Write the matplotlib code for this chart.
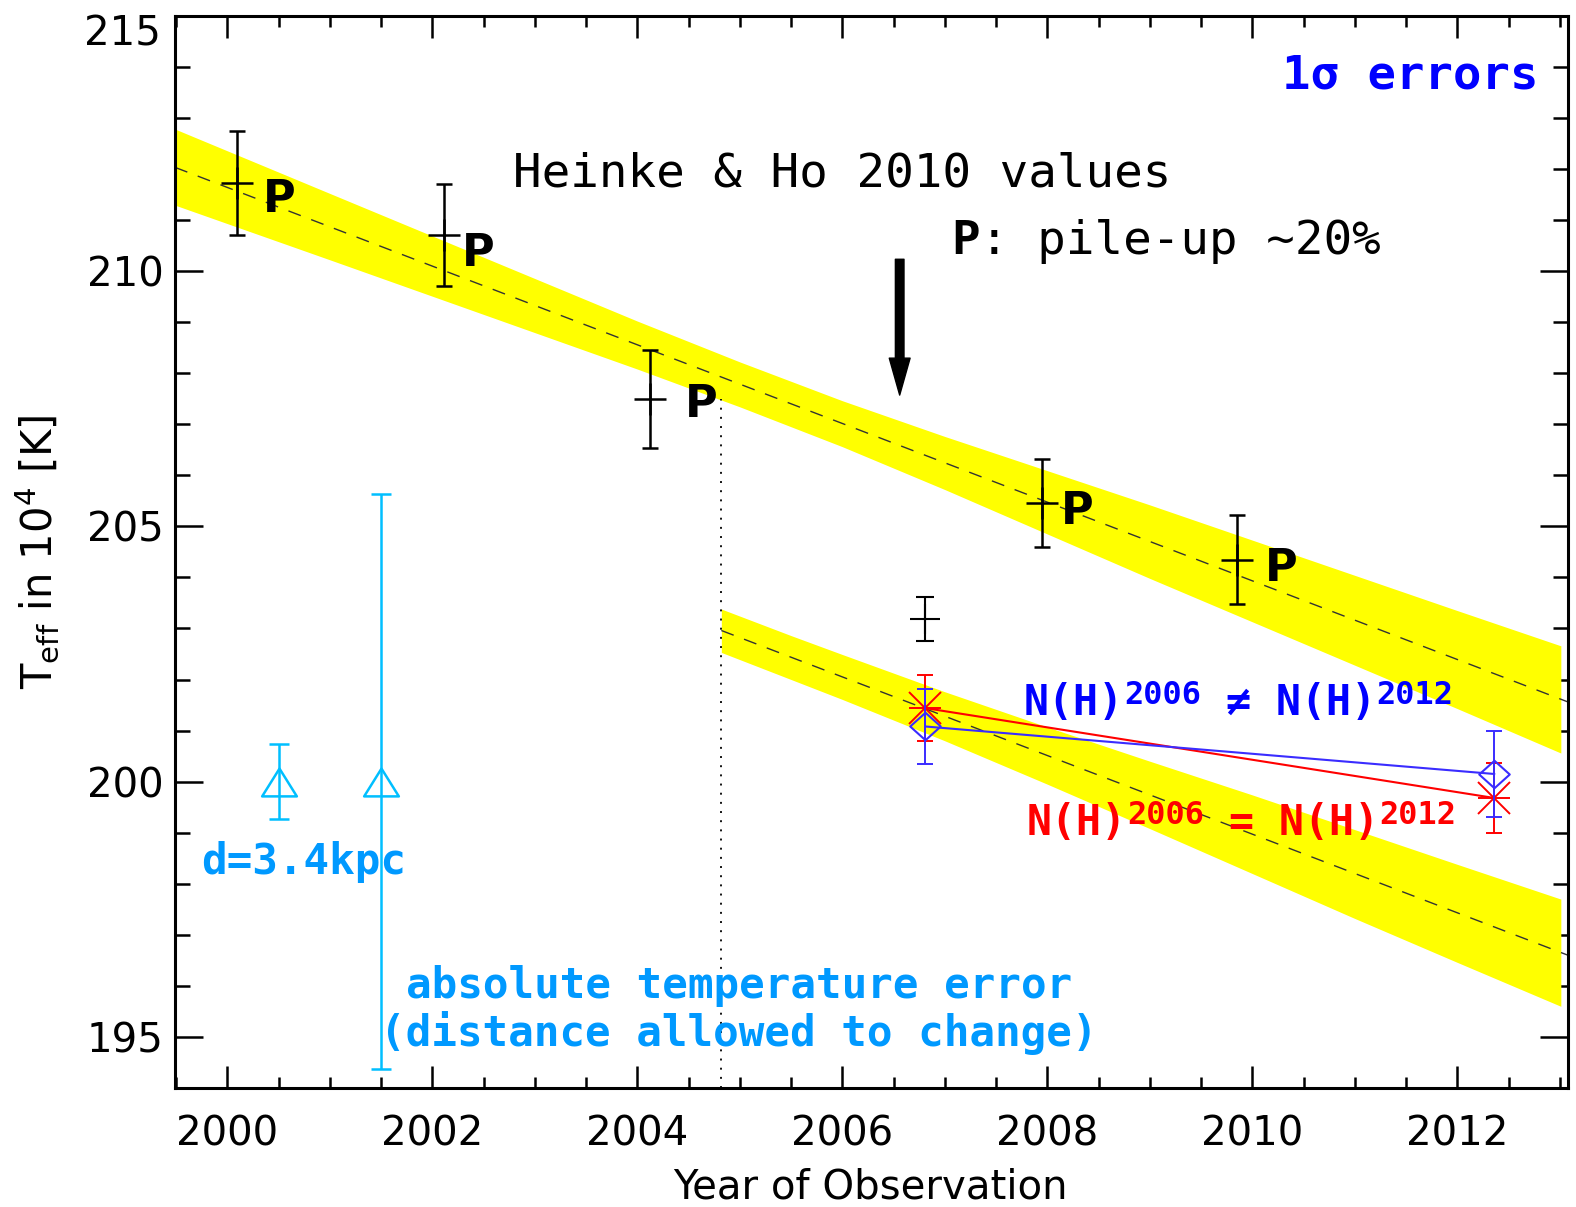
import numpy as np
import matplotlib
matplotlib.use("Agg")
import matplotlib.pyplot as plt
from matplotlib.path import Path

# ---------------------------------------------------------------- data
# Heinke & Ho 2010 temperatures (pile-up ~20%)
hh_year = [2000.09, 2002.11, 2004.12, 2007.95, 2009.85]
hh_teff = [211.73, 210.71, 207.49, 205.45, 204.35]
hh_err = [1.02, 1.00, 0.96, 0.86, 0.88]

# 2006 observation, reference fit
ref_year = [2006.81]
ref_teff = [203.19]
ref_err = [0.43]

# N(H) fitted separately for each epoch
nh_free_year = [2006.81, 2012.36]
nh_free_teff = [201.08, 200.15]
nh_free_err = [0.73, 0.84]

# N(H) tied between the epochs
nh_tied_year = [2006.81, 2012.36]
nh_tied_teff = [201.44, 199.68]
nh_tied_err = [0.64, 0.69]

# absolute temperature error (distance fixed / distance free)
abs_year = [2000.5, 2001.5]
abs_teff = [200.0, 200.0]
abs_err = [0.73, 5.63]

# linear cooling fit to the Heinke & Ho values and its 1-sigma band
fit1_year = [1999.49, 2013.08]
fit1_teff = [212.03, 201.56]
band1_year = [1999.49, 2001.0, 2002.5, 2004.0, 2005.0, 2006.0, 2007.0,
              2008.0, 2009.0, 2010.0, 2011.0, 2012.0, 2013.01]
band1_hi = [212.78, 211.52, 210.27, 209.02, 208.22, 207.46, 206.76,
            206.09, 205.42, 204.73, 204.04, 203.35, 202.66]
band1_lo = [211.29, 210.22, 209.15, 208.08, 207.34, 206.56, 205.72,
            204.85, 203.98, 203.13, 202.28, 201.43, 200.56]

# same fit, shifted to the new data
fit2_year = [2004.82, 2013.08]
fit2_teff = [202.96, 196.60]
band2_year = [2004.82, 2005.5, 2006.0, 2007.0, 2008.0, 2009.0, 2010.0,
              2011.0, 2012.0, 2013.01]
band2_hi = [203.38, 202.86, 202.49, 201.76, 201.07, 200.40, 199.74,
            199.06, 198.38, 197.70]
band2_lo = [202.53, 202.00, 201.61, 200.80, 199.95, 199.08, 198.20,
            197.32, 196.46, 195.60]

split_year = 2004.82
split_top = 207.5

x_major = [2000, 2002, 2004, 2006, 2008, 2010, 2012]
y_major = [195, 200, 205, 210, 215]

# ---------------------------------------------------------------- style
plt.rcParams["font.family"] = ["DejaVu Sans"]
plt.rcParams["lines.scale_dashes"] = False
plt.rcParams["mathtext.fontset"] = "dejavusans"

MONO = "DejaVu Sans Mono"
MONO_ADV = 1233 / 2048  # advance width of DejaVu Sans Mono, in em
CYAN_TXT = "#0099ff"
CYAN = "#00bfff"
BLUE = "#3a2cff"

fig = plt.figure(figsize=(15.76, 12.07), dpi=100)
ax = fig.add_axes([175 / 1576, 1 - 1088 / 1207,
                   (1568 - 175) / 1576, (1088 - 15.7) / 1207])
ax.set_xlim(1999.49, 2013.08)
ax.set_ylim(194.0, 215.0)

ax.set_xticks(x_major)
ax.set_xticks(np.arange(1999.5, 2013.1, 0.5), minor=True)
ax.set_yticks(y_major)
ax.set_yticklabels([str(v) if v != 215 else "" for v in y_major])
ax.set_yticks(np.arange(194, 215.1, 1.0), minor=True)
ax.tick_params(which="both", direction="in", top=True, right=True,
               width=1.8, color="k", labelsize=29)
ax.tick_params(axis="x", which="major", length=16, pad=19)
ax.tick_params(axis="x", which="minor", length=8)
ax.tick_params(axis="y", which="major", length=20, pad=8)
ax.tick_params(axis="y", which="minor", length=11)
for sp in ax.spines.values():
    sp.set_linewidth(2.2)
    sp.set_zorder(4)

# top label sits just below the frame corner
ax.annotate("215", xy=(0, 215), xycoords=("axes fraction", "data"),
            xytext=(-10.5, -10), textcoords="offset points",
            ha="right", va="center_baseline", fontsize=29)

ax.set_xlabel("Year of Observation", fontsize=29)
ax.xaxis.set_label_coords(0.499, -0.0745)
ax.xaxis.label.set_va("top")
ax.set_ylabel(r"T$_{\rm eff}$ in 10$^{4}$ [K]", fontsize=30)
ax.yaxis.set_label_coords(-0.082, 0.5)

# ---------------------------------------------------------------- bands and fits
ax.fill_between(band1_year, band1_lo, band1_hi, color="#ffff00", lw=0, zorder=3)
ax.fill_between(band2_year, band2_lo, band2_hi, color="#ffff00", lw=0, zorder=3)
for fx, fy in ((fit1_year, fit1_teff), (fit2_year, fit2_teff)):
    ax.plot(fx, fy, color="#333333", lw=1.0, dashes=(9.5, 8), zorder=4)
ax.plot([split_year, split_year], [194.0, split_top], color="k", lw=1.3,
        dashes=(1.4, 5.2), zorder=4)

# ---------------------------------------------------------------- data points
ax.errorbar(hh_year, hh_teff, yerr=hh_err, fmt="+", color="k", ms=23,
            mew=1.8, elinewidth=1.8, capsize=5.8, capthick=1.8, zorder=6)
ax.errorbar(ref_year, ref_teff, yerr=ref_err, fmt="+", color="k", ms=21,
            mew=1.5, elinewidth=1.5, capsize=6.5, capthick=1.5, zorder=6)

tri = Path([(-1, -0.8), (0, 0.8), (1, -0.8), (-1, -0.8)],
           [Path.MOVETO, Path.LINETO, Path.LINETO, Path.CLOSEPOLY])
ax.errorbar(abs_year, abs_teff, yerr=abs_err, fmt="none", ecolor=CYAN,
            elinewidth=1.8, capsize=7.2, capthick=1.8, zorder=6)
ax.plot(abs_year, abs_teff, ls="none", marker=tri, ms=25, mfc="none",
        mec=CYAN, mew=1.8, zorder=6)

ax.plot(nh_tied_year, nh_tied_teff, color="red", lw=1.5, zorder=6)
ax.errorbar(nh_tied_year, nh_tied_teff, yerr=nh_tied_err, fmt="none",
            ecolor="red", elinewidth=1.4, capsize=6.1, capthick=1.4, zorder=6)
for m in ("+", "x"):
    ax.plot(nh_tied_year, nh_tied_teff, ls="none", marker=m, ms=23,
            mec="red", mew=1.4, zorder=6)

diamond = Path([(0, 0.9), (1, 0), (0, -0.9), (-1, 0), (0, 0.9)],
               [Path.MOVETO, Path.LINETO, Path.LINETO, Path.LINETO, Path.CLOSEPOLY])
ax.plot(nh_free_year, nh_free_teff, color=BLUE, lw=1.5, zorder=7)
ax.errorbar(nh_free_year, nh_free_teff, yerr=nh_free_err, fmt="none",
            ecolor=BLUE, elinewidth=1.4, capsize=6.1, capthick=1.4, zorder=7)
ax.plot(nh_free_year, nh_free_teff, ls="none", marker=diamond, ms=22,
        mfc="none", mec=BLUE, mew=1.5, zorder=7)

# ---------------------------------------------------------------- annotations
def mono_text(x, y, parts, color, ha="left", family=MONO, adv=MONO_ADV):
    """Write consecutive monospace pieces: (text, size, rise, weight)."""
    total = sum(adv * size * len(s) for s, size, _, _ in parts)
    off = -total if ha == "right" else 0.0
    for s, size, rise, weight in parts:
        ax.annotate(s, xy=(x, y), xycoords="data", xytext=(off, rise),
                    textcoords="offset points", ha="left", va="baseline",
                    fontsize=size, family=family, weight=weight, color=color,
                    zorder=8, annotation_clip=False)
        off += adv * size * len(s)

mono_text(2012.79, 213.57, [("1σ errors", 34, 0, "bold")], "#0000ff", ha="right")
mono_text(2002.79, 211.65, [("Heinke & Ho 2010 values", 34.2, 0, "normal")], "k")
mono_text(2007.06, 210.34, [("P", 34.2, 0, "bold"),
                            (": pile-up ~20%", 34.2, 0, "normal")], "k")

p_label_xy = [(2000.35, 211.16), (2002.29, 210.09), (2004.46, 207.14),
              (2008.13, 205.05), (2010.12, 203.93)]
for px, py in p_label_xy:
    ax.text(px, py, "P", ha="left", va="baseline", fontsize=32,
            family="DejaVu Sans", weight="bold", color="k", zorder=8)

mono_text(2007.77, 201.31, [("N(H)", 30, 0, "bold"), ("2006", 23, 7.9, "bold"),
                            (" ≠ N(H)", 30, 0, "bold"), ("2012", 23, 7.9, "bold")],
          "#0000ff")
mono_text(2007.80, 198.96, [("N(H)", 30, 0, "bold"), ("2006", 23, 7.9, "bold"),
                            (" = N(H)", 30, 0, "bold"), ("2012", 23, 7.9, "bold")],
          "#ff0000")

mono_text(1999.74, 198.19, [("d=3.4kpc", 30.7, 0, "bold")], CYAN_TXT)
for line, yb in (("absolute temperature error", 195.77),
                 ("(distance allowed to change)", 194.83)):
    ax.text(2004.99, yb, line, ha="center", va="baseline", fontsize=30.7,
            family=MONO, weight="bold", color=CYAN_TXT, zorder=8)

ax.annotate("", xy=(2006.56, 207.57), xytext=(2006.56, 210.23),
            arrowprops=dict(arrowstyle="simple,head_length=2.66,head_width=1.5,tail_width=0.62",
                            mutation_scale=10, color="k", shrinkA=0, shrinkB=0),
            zorder=8)

fig.savefig("out.png", dpi=100)
